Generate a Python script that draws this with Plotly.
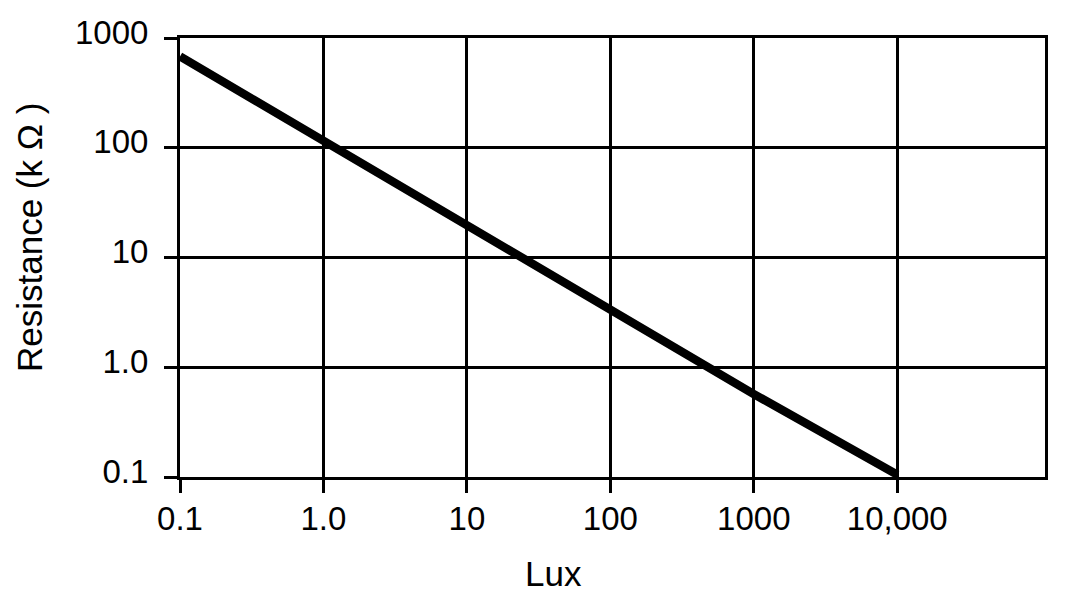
import plotly.graph_objects as go

# photocell resistance vs illumination
lux = [0.1, 1.0, 10, 100, 1000, 10000]
resistance_k = [680, 115, 20, 3.4, 0.57, 0.105]

x_ticks = [0.1, 1, 10, 100, 1000, 10000]
x_labels = ["0.1", "1.0", "10", "100", "1000", "10,000"]
y_ticks = [0.1, 1, 10, 100, 1000]
y_labels = ["0.1", "1.0", "10", "100", "1000"]

font_name = "Liberation Sans, Arial, sans-serif"

fig = go.Figure()
fig.add_trace(go.Scatter(
    x=lux, y=resistance_k,
    mode="lines",
    line=dict(color="black", width=8.5),
    showlegend=False,
    hoverinfo="skip",
))

axis_style = dict(
    type="log",
    automargin=False,
    showgrid=True, gridcolor="black", gridwidth=2.8,
    showline=True, linecolor="black", linewidth=3, mirror=True,
    ticks="outside", ticklen=13, tickwidth=2.8, tickcolor="black",
    tickfont=dict(family=font_name, size=33, color="black"),
    zeroline=False,
)

fig.update_xaxes(range=[-1, 5.03], tickvals=x_ticks, ticktext=x_labels,
                 ticklabelstandoff=-3, **axis_style)
fig.update_yaxes(range=[-1, 3], tickvals=y_ticks, ticktext=y_labels,
                 ticklabelstandoff=9, ticklabelshift=-6, **axis_style)

# titles, given in screen pixels
fig.add_annotation(text="Lux", x=553, y=573, showarrow=False,
                   font=dict(family=font_name, size=35, color="black"))
fig.add_annotation(text="Resistance (k \u03a9 )", x=29, y=238, textangle=-90,
                   showarrow=False,
                   font=dict(family=font_name, size=35, color="black"))

# page body has an 8px margin in the browser
OFF = 8
W, H = 1060, 588
L, R, T, B = 172, 23, 30, 119
pw, ph = W - L - R, H - T - B
for a in fig.layout.annotations:
    a.update(xref="paper", yref="paper",
             x=(a.x - OFF - L) / pw, y=1 - (a.y - OFF - T) / ph,
             xanchor="center", yanchor="middle")

fig.update_layout(
    width=W, height=H,
    margin=dict(l=L, r=R, t=T, b=B),
    paper_bgcolor="white", plot_bgcolor="white",
)

fig.write_html("out.html")
